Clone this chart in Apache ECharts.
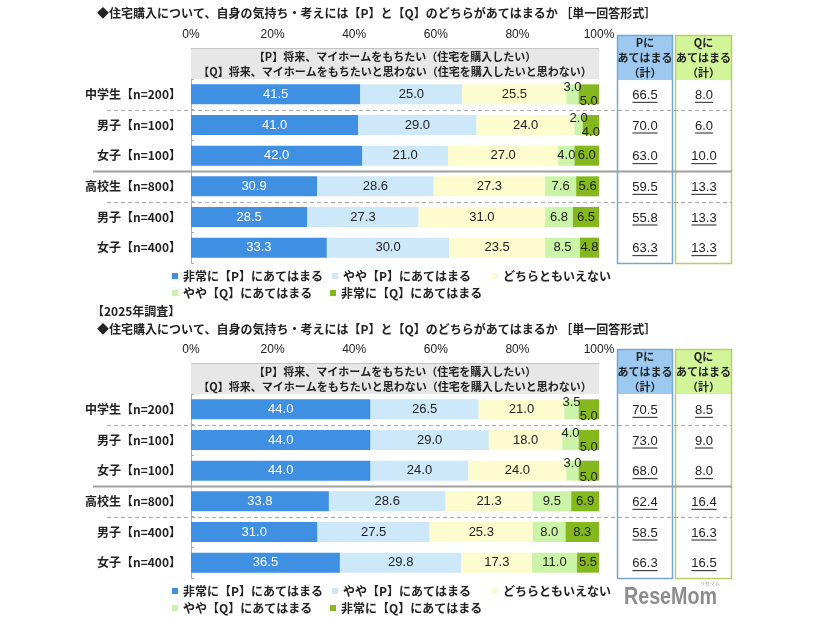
<!DOCTYPE html>
<html>
<head>
<meta charset="utf-8" />
<title></title>
<script src="https://cdn.jsdelivr.net/npm/echarts@6/dist/echarts.min.js"></script>
<style>
  html, body { margin: 0; padding: 0; background: #fff; }
</style>
</head>
<body>
<div id="main" style="width: 826px; height: 620px;"></div>
<script>
// categories and series names
var cats = ['中学生【n=200】', '男子【n=100】', '女子【n=100】', '高校生【n=800】', '男子【n=400】', '女子【n=400】'];
var names = ['非常に【P】にあてはまる', 'やや【P】にあてはまる', 'どちらともいえない', 'やや【Q】にあてはまる', '非常に【Q】にあてはまる'];
var colors = ['#3f8fe3', '#cde8f9', '#fcfcce', '#ccf4a8', '#84b81c'];

// previous survey (top)
var strongP1 = [41.5, 41.0, 42.0, 30.9, 28.5, 33.3];
var someP1 = [25.0, 29.0, 21.0, 28.6, 27.3, 30.0];
var neutral1 = [25.5, 24.0, 27.0, 27.3, 31.0, 23.5];
var someQ1 = [3.0, 2.0, 4.0, 7.6, 6.8, 8.5];
var strongQ1 = [5.0, 4.0, 6.0, 5.6, 6.5, 4.8];
var pTotal1 = [66.5, 70.0, 63.0, 59.5, 55.8, 63.3];
var qTotal1 = [8.0, 6.0, 10.0, 13.3, 13.3, 13.3];

// 2025 survey (bottom)
var strongP2 = [44.0, 44.0, 44.0, 33.8, 31.0, 36.5];
var someP2 = [26.5, 29.0, 24.0, 28.6, 27.5, 29.8];
var neutral2 = [21.0, 18.0, 24.0, 21.3, 25.3, 17.3];
var someQ2 = [3.5, 4.0, 3.0, 9.5, 8.0, 11.0];
var strongQ2 = [5.0, 5.0, 5.0, 6.9, 8.3, 5.5];
var pTotal2 = [70.5, 73.0, 68.0, 62.4, 58.5, 66.3];
var qTotal2 = [8.5, 9.0, 8.0, 16.4, 16.3, 16.5];

var titleText = '◆住宅購入について、自身の気持ち・考えには【P】と【Q】のどちらがあてはまるか ［単一回答形式］';
var headLine1 = '【P】将来、マイホームをもちたい（住宅を購入したい）';
var headLine2 = '【Q】将来、マイホームをもちたいと思わない（住宅を購入したいと思わない）';

var numFont = "'Liberation Sans', Arial, 'Noto Sans CJK JP', sans-serif";
var jpFont = "'Noto Sans CJK JP', sans-serif";

var charts = [
  { top: 79, vals: [strongP1, someP1, neutral1, someQ1, strongQ1], p: pTotal1, q: qTotal1 },
  { top: 394, vals: [strongP2, someP2, neutral2, someQ2, strongQ2], p: pTotal2, q: qTotal2 }
];
var gridH = 184;

var myChart = echarts.init(document.getElementById('main'));

var grids = [], xAxes = [], yAxes = [], series = [], legends = [];

charts.forEach(function (c, g) {
  grids.push({ left: 191, width: 408, top: c.top, height: gridH });
  xAxes.push({
    gridIndex: g, type: 'value', position: 'top', min: 0, max: 100, interval: 20,
    axisLine: { show: false }, axisTick: { show: false }, splitLine: { show: false },
    axisLabel: { formatter: '{value}%', margin: 38, fontSize: 12, color: '#222', fontFamily: numFont }
  });
  yAxes.push({
    gridIndex: g, type: 'category', inverse: true, data: cats,
    axisLine: { show: true, lineStyle: { color: '#aaa' } },
    axisTick: { show: true, inside: true, length: 3, lineStyle: { color: '#aaa' } },
    axisLabel: { fontSize: 12, fontWeight: 'bold', color: '#222', margin: 10, fontFamily: jpFont }
  });

  c.vals.forEach(function (arr, k) {
    var data = arr.map(function (v, i) {
      // narrow green pair: labels staggered up/down like the original
      var small = c.vals[3][i] + c.vals[4][i] <= 9;
      if (small && k === 3) return { value: v, label: { offset: [0, -7] } };
      if (small && k === 4) return { value: v, label: { offset: [0, 7] } };
      return v;
    });
    series.push({
      type: 'bar', name: names[k], stack: 'st' + g, xAxisIndex: g, yAxisIndex: g,
      barWidth: 20, data: data,
      itemStyle: { color: colors[k] },
      label: {
        show: true, position: 'inside', fontSize: 13, fontFamily: numFont,
        color: k === 0 ? '#fff' : '#222',
        formatter: function (p) { return p.value.toFixed(1); }
      }
    });
  });

  // totals columns and row dividers
  series.push({
    type: 'custom', xAxisIndex: g, yAxisIndex: g, clip: false, silent: true,
    data: cats.map(function (n, i) { return [0, i, c.p[i], c.q[i]]; }),
    encode: { x: 0, y: 1 },
    renderItem: function (params, api) {
      var i = api.value(1);
      var pt = api.coord([0, i]);
      var band = api.size([0, 1])[1];
      var right = api.coord([100, i])[0];
      var kids = [];
      [[api.value(2), right + 46], [api.value(3), right + 105]].forEach(function (t) {
        var s = t[0].toFixed(1);
        var w = (s.length - 1) * 7.2 + 3.6;
        kids.push({
          type: 'text',
          style: { text: s, x: t[1], y: pt[1] + 1, align: 'center', verticalAlign: 'middle', fill: '#222', font: '13px ' + numFont }
        });
        kids.push({
          type: 'line',
          shape: { x1: t[1] - w / 2, y1: pt[1] + 8, x2: t[1] + w / 2, y2: pt[1] + 8 },
          style: { stroke: '#222', lineWidth: 1 }
        });
      });
      var yb = Math.round(pt[1] + band / 2) + 0.5;
      if (i === 0 || i === 3) {
        kids.push({
          type: 'line', shape: { x1: 107, y1: yb, x2: right + 133, y2: yb },
          style: { stroke: '#aaa', lineWidth: 1, lineDash: [4, 3] }
        });
      } else if (i === 2) {
        kids.push({
          type: 'line', shape: { x1: 93, y1: yb, x2: right + 133, y2: yb },
          style: { stroke: '#a0a0a0', lineWidth: 2 }
        });
      }
      return { type: 'group', children: kids };
    }
  });

  // legend, one component per item so the columns line up
  var lgTop = c.top + gridH + 7;
  var pos = [[172, lgTop], [332, lgTop], [492, lgTop], [172, lgTop + 17], [330, lgTop + 17]];
  names.forEach(function (n, k) {
    legends.push({
      data: [n], left: pos[k][0], top: pos[k][1], padding: 0,
      icon: 'rect', itemWidth: 6, itemHeight: 6, selectedMode: false,
      textStyle: { fontSize: 12, fontWeight: 'bold', color: '#222', fontFamily: jpFont }
    });
  });
});

function headerGraphics(boxTop, colTop, bottom) {
  var out = [];
  out.push({ type: 'rect', shape: { x: 191, y: boxTop, width: 408, height: 31 }, style: { fill: '#e7e7e7' } });
  out.push({ type: 'line', shape: { x1: 191, y1: boxTop + 0.5, x2: 599, y2: boxTop + 0.5 }, style: { stroke: '#c4c4c4', lineWidth: 1 } });
  out.push({ type: 'text', style: { text: headLine1, x: 395, y: boxTop + 9, align: 'center', verticalAlign: 'middle', fill: '#222', font: 'bold 11px ' + jpFont } });
  out.push({ type: 'text', style: { text: headLine2, x: 395, y: boxTop + 24, align: 'center', verticalAlign: 'middle', fill: '#222', font: 'bold 11px ' + jpFont } });

  var cols = [
    { x: 617, w: 56, fill: '#9dc9f0', stroke: '#78a6cf', head: 'Pに' },
    { x: 675, w: 57, fill: '#d3f59a', stroke: '#b4d06a', head: 'Qに' }
  ];
  cols.forEach(function (c) {
    out.push({ type: 'rect', shape: { x: c.x, y: colTop, width: c.w, height: 45 }, style: { fill: c.fill } });
    out.push({ type: 'rect', shape: { x: c.x + 0.5, y: colTop + 0.5, width: c.w - 1, height: bottom - colTop }, style: { fill: 'none', stroke: c.stroke, lineWidth: 1.5 } });
    var cx = c.x + c.w / 2;
    [c.head, 'あてはまる', '（計）'].forEach(function (t, j) {
      out.push({ type: 'text', style: { text: t, x: cx, y: colTop + 8 + j * 15, align: 'center', verticalAlign: 'middle', fill: '#222', font: 'bold 11px ' + jpFont } });
    });
  });
  return out;
}

var graphics = [].concat(
  headerGraphics(48, 35, 263),
  headerGraphics(363, 349, 578),
  [
    { type: 'text', x: 624, y: 585, scaleX: 0.82, style: { text: 'ReseMom', x: 0, y: 0, fill: '#8c8c8c', font: 'bold 24px ' + numFont } },
    { type: 'text', style: { text: 'リセマム', x: 700, y: 581, fill: '#999', font: '5px ' + jpFont } }
  ]
);

option = {
  animation: false,
  textStyle: { fontFamily: jpFont },
  title: [
    { text: titleText, left: 97, top: 7, padding: 0, textStyle: { fontSize: 12, fontWeight: 'bold', color: '#222', fontFamily: jpFont } },
    { text: '【2025年調査】', left: 92, top: 305, padding: 0, textStyle: { fontSize: 12, fontWeight: 'bold', color: '#222', fontFamily: jpFont } },
    { text: titleText, left: 97, top: 323, padding: 0, textStyle: { fontSize: 12, fontWeight: 'bold', color: '#222', fontFamily: jpFont } }
  ],
  legend: legends,
  grid: grids,
  xAxis: xAxes,
  yAxis: yAxes,
  series: series,
  graphic: graphics
};
myChart.setOption(option);
</script>
</body>
</html>
